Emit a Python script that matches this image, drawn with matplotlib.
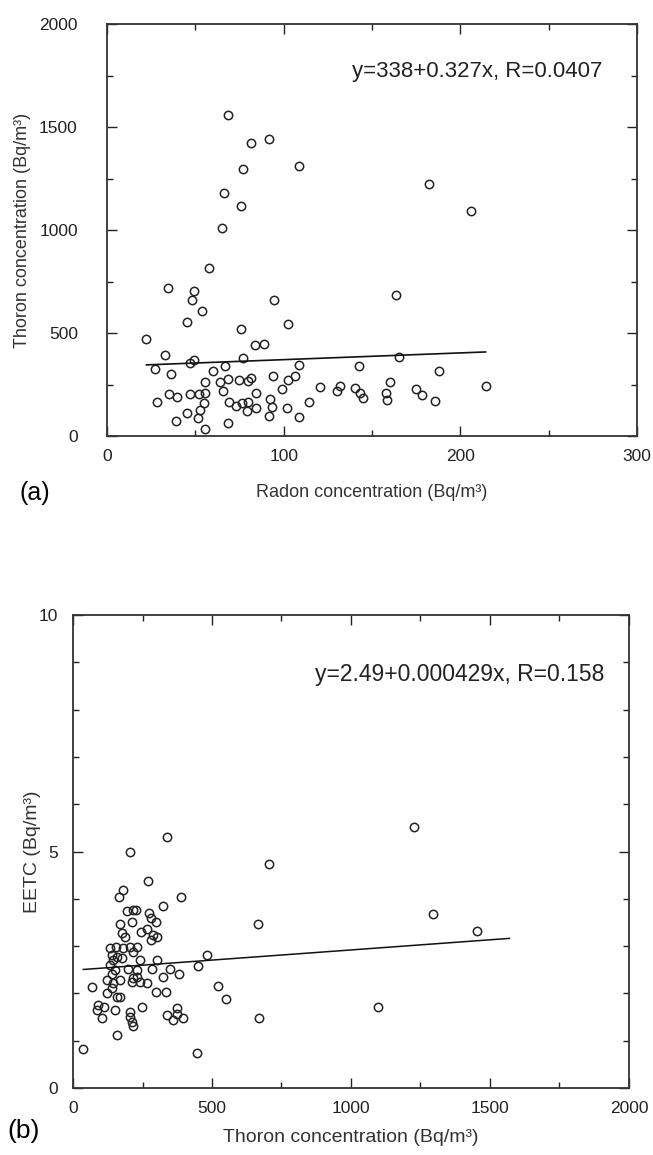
import matplotlib.pyplot as plt
from matplotlib.ticker import MultipleLocator

plt.rcParams['font.family'] = ['Liberation Sans', 'DejaVu Sans']

# (a) radon vs thoron, Bq/m3
radon = [68.3, 81.3, 91.9, 108.5, 76.8, 66.0, 76.0, 65.3, 57.5, 34.3,
         49.4, 48.3, 53.8, 94.5, 45.1, 102.4, 76.0, 22.3, 83.9, 88.7,
         32.6, 49.4, 47.0, 76.8, 27.0, 36.2, 59.8, 67.0, 108.5, 142.4,
         55.6, 64.1, 68.3, 74.9, 79.8, 81.3, 93.8, 99.0, 102.4, 106.6,
         65.5, 84.2, 35.3, 39.8, 47.0, 52.2, 55.6, 28.5, 68.9, 73.0,
         76.2, 80.0, 79.0, 54.9, 52.6, 51.5, 92.2, 93.4, 91.5, 84.3,
         101.7, 108.5, 114.5, 45.1, 39.0, 55.6, 68.3, 120.5, 131.9, 130.3,
         140.4, 145.1, 143.2, 182.4, 205.8, 163.6, 165.4, 187.7, 160.2, 157.9,
         158.3, 174.9, 178.1, 185.6, 214.3]
thoron_a = [1558, 1424, 1443, 1311, 1295, 1178, 1117, 1010, 817, 720,
            704, 660, 608, 660, 553, 544, 518, 472, 440, 445,
            393, 369, 353, 377, 324, 300, 315, 341, 343, 341,
            262, 262, 278, 272, 268, 283, 291, 228, 272, 291,
            218, 207, 202, 191, 202, 202, 207, 165, 165, 146,
            162, 165, 123, 159, 126, 86, 178, 139, 97, 134,
            134, 94, 167, 113, 71, 33, 62, 236, 243, 218,
            231, 183, 207, 1222, 1092, 684, 385, 314, 262, 207,
            175, 228, 199, 171, 244]
fit_a = (338, 0.327)
text_a = 'y=338+0.327x, R=0.0407'

# (b) thoron vs EETC, Bq/m3
thoron_b = [339, 205, 705, 271, 179, 164, 390, 325, 193, 217,
            227, 273, 281, 300, 213, 169, 664, 245, 265, 289,
            301, 281, 175, 187, 133, 155, 181, 205, 229, 217,
            139, 157, 145, 175, 481, 241, 301, 451, 133, 151,
            139, 199, 229, 283, 349, 382, 325, 121, 145, 169,
            217, 229, 211, 241, 265, 67, 139, 157, 169, 121,
            299, 335, 523, 550, 91, 112, 151, 85, 103, 247,
            205, 205, 211, 215, 339, 375, 361, 397, 373, 670,
            157, 37, 445, 1227, 1296, 1452, 1098]
eetc = [5.30, 4.98, 4.74, 4.38, 4.19, 4.03, 4.03, 3.85, 3.75, 3.76,
        3.76, 3.71, 3.59, 3.50, 3.52, 3.47, 3.47, 3.29, 3.36, 3.23,
        3.20, 3.13, 3.27, 3.20, 2.95, 2.99, 2.95, 2.99, 2.99, 2.88,
        2.81, 2.78, 2.71, 2.74, 2.81, 2.71, 2.71, 2.59, 2.60, 2.49,
        2.42, 2.51, 2.49, 2.51, 2.51, 2.42, 2.35, 2.28, 2.21, 2.28,
        2.32, 2.35, 2.25, 2.25, 2.23, 2.13, 2.11, 1.93, 1.93, 2.00,
        2.03, 2.03, 2.15, 1.89, 1.75, 1.72, 1.65, 1.65, 1.47, 1.72,
        1.61, 1.51, 1.40, 1.31, 1.54, 1.70, 1.44, 1.47, 1.56, 1.47,
        1.12, 0.83, 0.74, 5.51, 3.68, 3.33, 1.72]
fit_b = (2.49, 0.000429)
fit_b_range = [37, 1570]
text_b = 'y=2.49+0.000429x, R=0.158'

fig = plt.figure(figsize=(6.53, 11.55), dpi=100)
ax1 = fig.add_axes([0.1639, 0.6225, 0.8116, 0.3567])
ax2 = fig.add_axes([0.1118, 0.0580, 0.8514, 0.4095])

mk = dict(ls='none', marker='o', ms=6, mfc='none', mec='#222222', mew=1.1)
fs = 12.5


def style(ax, ypad):
    ax.tick_params(which='both', direction='in', top=True, right=True,
                   labelsize=fs, colors='#222222')
    ax.tick_params(axis='x', which='both', pad=9)
    ax.tick_params(axis='y', which='both', pad=ypad)
    ax.tick_params(which='major', length=7, width=1)
    ax.tick_params(which='minor', length=4, width=1)
    for s in ax.spines.values():
        s.set_linewidth(1.3)
        s.set_color('#333333')


ax1.plot(radon, thoron_a, **mk)
x0, x1 = min(radon), max(radon)
ax1.plot([x0, x1], [fit_a[0] + fit_a[1] * x0, fit_a[0] + fit_a[1] * x1],
         color='#111111', lw=1.2)
ax1.set_xlim(0, 300)
ax1.set_ylim(0, 2000)
ax1.xaxis.set_major_locator(MultipleLocator(100))
ax1.xaxis.set_minor_locator(MultipleLocator(50))
ax1.yaxis.set_major_locator(MultipleLocator(500))
ax1.yaxis.set_minor_locator(MultipleLocator(250))
style(ax1, 21)
ax1.text(0.935, 0.885, text_a, transform=ax1.transAxes, ha='right',
         va='center', fontsize=16, color='#222222')
ax1.set_xlabel('Radon concentration (Bq/m³)', fontsize=fs + 0.5, color='#333333', labelpad=15)
ax1.set_ylabel('Thoron concentration (Bq/m³)', fontsize=fs + 0.5, color='#333333', labelpad=6)
fig.text(0.03, 0.573, '(a)', fontsize=18, va='center', ha='left')

ax2.plot(thoron_b, eetc, **mk)
ax2.plot(fit_b_range, [fit_b[0] + fit_b[1] * v for v in fit_b_range],
         color='#111111', lw=1.1)
ax2.set_xlim(0, 2000)
ax2.set_ylim(0, 10)
ax2.xaxis.set_major_locator(MultipleLocator(500))
ax2.xaxis.set_minor_locator(MultipleLocator(250))
ax2.yaxis.set_major_locator(MultipleLocator(5))
ax2.yaxis.set_minor_locator(MultipleLocator(1))
style(ax2, 11)
ax2.text(0.955, 0.875, text_b, transform=ax2.transAxes, ha='right',
         va='center', fontsize=16.5, color='#222222')
ax2.set_xlabel('Thoron concentration (Bq/m³)', fontsize=fs + 1.5, color='#333333', labelpad=10)
ax2.set_ylabel('EETC (Bq/m³)', fontsize=fs + 1.5, color='#333333', labelpad=-2)
fig.text(0.012, 0.021, '(b)', fontsize=19, va='center', ha='left')

fig.savefig('out.png', dpi=100)
